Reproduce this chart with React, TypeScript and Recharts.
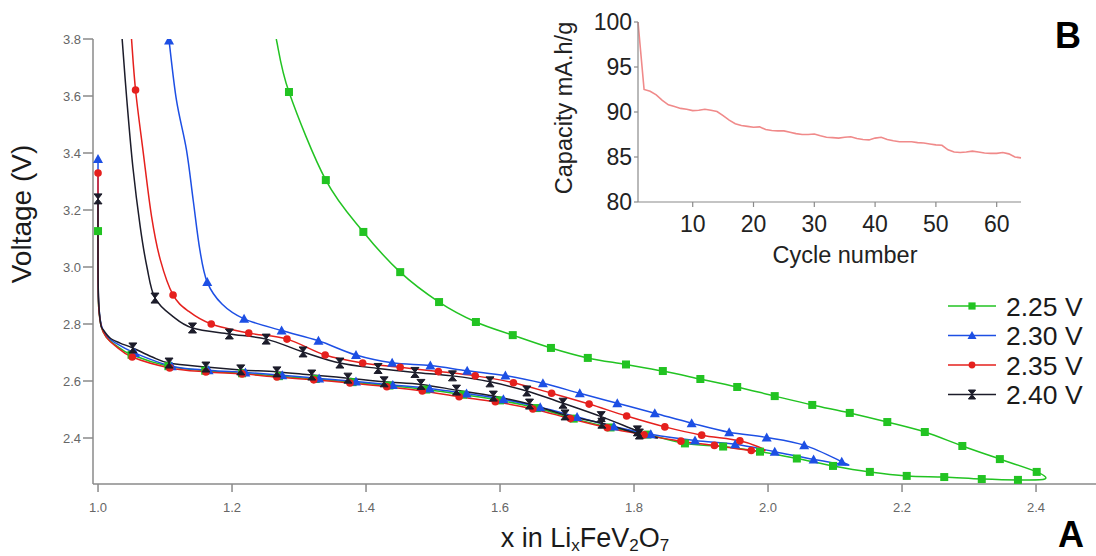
import React from 'react';
import { LineChart, Line, XAxis, YAxis } from 'recharts';

// ---------- main panel (A): voltage vs x in LixFeV2O7 ----------
// each point: [x, voltage, marker(1/0)]
const curve225: number[][] = [
  [1.0, 3.126, 1], [1.0, 2.95, 0], [1.001, 2.86, 0], [1.005, 2.79, 0], [1.012, 2.755, 0], [1.025, 2.728, 0],
  [1.05, 2.692, 1], [1.105, 2.652, 1], [1.16, 2.636, 1], [1.215, 2.627, 1], [1.27, 2.617, 1], [1.325, 2.607, 1],
  [1.38, 2.596, 1], [1.435, 2.584, 1], [1.49, 2.57, 1], [1.545, 2.552, 1], [1.6, 2.532, 1], [1.655, 2.505, 1],
  [1.71, 2.468, 1], [1.765, 2.437, 1], [1.82, 2.412, 1], [1.876, 2.381, 1], [1.933, 2.37, 1], [1.988, 2.352, 1],
  [2.043, 2.328, 1], [2.097, 2.302, 1], [2.152, 2.281, 1], [2.207, 2.267, 1], [2.263, 2.263, 1], [2.319, 2.256, 1],
  [2.373, 2.253, 1], [2.413, 2.256, 0],
  [2.401, 2.281, 1], [2.346, 2.326, 1], [2.29, 2.372, 1], [2.234, 2.421, 1], [2.178, 2.456, 1], [2.122, 2.488, 1],
  [2.066, 2.516, 1], [2.01, 2.547, 1], [1.954, 2.579, 1], [1.899, 2.607, 1], [1.843, 2.635, 1], [1.788, 2.658, 1],
  [1.731, 2.681, 1], [1.676, 2.716, 1], [1.619, 2.761, 1], [1.564, 2.807, 1], [1.509, 2.877, 1], [1.451, 2.982, 1],
  [1.396, 3.123, 1], [1.34, 3.305, 1], [1.285, 3.614, 1], [1.266, 3.8, 0],
];

const curve230: number[][] = [
  [1.0, 3.379, 1], [1.0, 3.0, 0], [1.001, 2.87, 0], [1.005, 2.795, 0], [1.012, 2.76, 0], [1.025, 2.735, 0],
  [1.055, 2.698, 1], [1.11, 2.652, 1], [1.165, 2.638, 1], [1.22, 2.63, 1], [1.275, 2.62, 1], [1.33, 2.609, 1],
  [1.385, 2.598, 1], [1.44, 2.586, 1], [1.495, 2.574, 1], [1.55, 2.556, 1], [1.605, 2.536, 1], [1.66, 2.508, 1],
  [1.715, 2.474, 1], [1.77, 2.44, 1], [1.825, 2.413, 1], [1.891, 2.391, 1], [1.951, 2.378, 1], [2.01, 2.352, 1],
  [2.068, 2.325, 1], [2.117, 2.305, 0],
  [2.11, 2.317, 1], [2.054, 2.375, 1], [1.998, 2.402, 1], [1.942, 2.42, 1], [1.886, 2.452, 1], [1.831, 2.487, 1],
  [1.775, 2.522, 1], [1.719, 2.557, 1], [1.664, 2.592, 1], [1.608, 2.619, 1], [1.551, 2.636, 1], [1.496, 2.654, 1],
  [1.439, 2.664, 1], [1.385, 2.691, 1], [1.329, 2.741, 1], [1.274, 2.777, 1], [1.218, 2.818, 1], [1.185, 2.87, 0],
  [1.163, 2.947, 1], [1.152, 3.06, 0], [1.142, 3.235, 0], [1.132, 3.411, 0], [1.117, 3.586, 0], [1.106, 3.795, 1],
];

const curve235: number[][] = [
  [1.0, 3.33, 1], [1.0, 3.0, 0], [1.001, 2.86, 0], [1.005, 2.79, 0], [1.012, 2.755, 0], [1.025, 2.725, 0],
  [1.051, 2.684, 1], [1.107, 2.646, 1], [1.161, 2.632, 1], [1.215, 2.625, 1], [1.267, 2.614, 1], [1.322, 2.604, 1],
  [1.376, 2.593, 1], [1.431, 2.58, 1], [1.484, 2.565, 1], [1.539, 2.545, 1], [1.593, 2.527, 1], [1.649, 2.502, 1],
  [1.705, 2.468, 1], [1.76, 2.436, 1], [1.815, 2.411, 1], [1.87, 2.389, 1], [1.92, 2.374, 1], [1.975, 2.356, 1],
  [1.995, 2.358, 0],
  [1.958, 2.39, 1], [1.901, 2.41, 1], [1.846, 2.439, 1], [1.789, 2.477, 1], [1.733, 2.519, 1], [1.677, 2.557, 1],
  [1.62, 2.594, 1], [1.563, 2.618, 1], [1.508, 2.633, 1], [1.451, 2.648, 1], [1.395, 2.663, 1], [1.339, 2.691, 1],
  [1.282, 2.747, 1], [1.225, 2.768, 1], [1.169, 2.8, 1], [1.135, 2.845, 0], [1.112, 2.902, 1], [1.093, 3.025, 0],
  [1.08, 3.176, 0], [1.067, 3.411, 0], [1.056, 3.621, 1], [1.05, 3.8, 0],
];

const curve240: number[][] = [
  [1.0, 3.239, 1], [1.0, 3.0, 0], [1.001, 2.877, 0], [1.004, 2.8, 0], [1.008, 2.779, 0], [1.018, 2.751, 0],
  [1.033, 2.733, 0], [1.052, 2.716, 1], [1.08, 2.685, 0], [1.106, 2.663, 1], [1.161, 2.649, 1], [1.213, 2.639, 1],
  [1.267, 2.632, 1], [1.319, 2.621, 1], [1.373, 2.61, 1], [1.427, 2.597, 1], [1.482, 2.588, 1], [1.535, 2.568, 1],
  [1.59, 2.547, 1], [1.644, 2.519, 1], [1.697, 2.481, 1], [1.752, 2.452, 1], [1.808, 2.414, 1], [1.835, 2.4, 0],
  [1.805, 2.425, 1], [1.751, 2.475, 1], [1.694, 2.522, 1], [1.64, 2.565, 1], [1.585, 2.597, 1], [1.529, 2.618, 1],
  [1.473, 2.63, 1], [1.418, 2.644, 1], [1.361, 2.663, 1], [1.306, 2.702, 1], [1.251, 2.747, 1], [1.196, 2.765, 1],
  [1.141, 2.786, 1], [1.112, 2.826, 0], [1.085, 2.891, 1], [1.073, 3.0, 0], [1.063, 3.141, 0], [1.052, 3.351, 0],
  [1.043, 3.586, 0], [1.036, 3.8, 0],
];

const seriesNames = ['2.25 V', '2.30 V', '2.35 V', '2.40 V'];
const seriesColors = ['#22c322', '#1d4fe4', '#e5201d', '#1c1c2a'];
const seriesShapes = ['square', 'triangle', 'circle', 'hourglass'];
const seriesCurves = [curve225, curve230, curve235, curve240];
const drawOrder = [0, 1, 2, 3];

const xTicks = [1.0, 1.2, 1.4, 1.6, 1.8, 2.0, 2.2, 2.4];
const voltageTicks = [2.4, 2.6, 2.8, 3.0, 3.2, 3.4, 3.6, 3.8];

// ---------- inset (B): capacity vs cycle ----------
const cycles = Array.from({ length: 64 }, (_, i) => i + 1);
const capacity = [
  100, 92.5, 92.3, 91.9, 91.3, 90.8, 90.6, 90.4, 90.3, 90.15,
  90.2, 90.3, 90.2, 90.05, 89.6, 89.1, 88.7, 88.5, 88.4, 88.3,
  88.35, 88.05, 87.95, 87.9, 87.9, 87.75, 87.6, 87.5, 87.5, 87.55,
  87.35, 87.2, 87.15, 87.1, 87.2, 87.25, 87.05, 86.95, 86.9, 87.1,
  87.2, 86.95, 86.8, 86.7, 86.7, 86.7, 86.6, 86.55, 86.45, 86.35,
  86.3, 85.8, 85.55, 85.5, 85.55, 85.65, 85.55, 85.45, 85.4, 85.4,
  85.5, 85.35, 85.0, 84.9,
];
const cycleTicks = [10, 20, 30, 40, 50, 60];
const capacityTicks = [80, 85, 90, 95, 100];

const FONT = '"Liberation Sans", Arial, Helvetica, sans-serif';

// Catmull-Rom curve factory (works for loops where x is not monotonic)
const catmullRom = (context: any) => {
  let pts: number[][] = [];
  return {
    areaStart() {},
    areaEnd() {},
    lineStart() { pts = []; },
    point(x: number, y: number) { pts.push([+x, +y]); },
    lineEnd() {
      const n = pts.length;
      if (!n) return;
      context.moveTo(pts[0][0], pts[0][1]);
      for (let i = 0; i < n - 1; i++) {
        const p0 = pts[i - 1] || pts[i];
        const p1 = pts[i];
        const p2 = pts[i + 1];
        const p3 = pts[i + 2] || p2;
        context.bezierCurveTo(
          p1[0] + (p2[0] - p0[0]) / 6, p1[1] + (p2[1] - p0[1]) / 6,
          p2[0] - (p3[0] - p1[0]) / 6, p2[1] - (p3[1] - p1[1]) / 6,
          p2[0], p2[1],
        );
      }
    },
  };
};

function Marker({ shape, cx, cy, color, s = 1 }: { shape: string; cx: number; cy: number; color: string; s?: number }) {
  if (shape === 'square') return <rect x={cx - 4 * s} y={cy - 4 * s} width={8 * s} height={8 * s} fill={color} />;
  if (shape === 'triangle')
    return <path d={`M${cx},${cy - 5 * s} L${cx + 5 * s},${cy + 4 * s} L${cx - 5 * s},${cy + 4 * s} Z`} fill={color} />;
  if (shape === 'circle') return <circle cx={cx} cy={cy} r={3.8 * s} fill={color} />;
  return (
    <path
      d={`M${cx - 4 * s},${cy - 5 * s} H${cx + 4 * s} L${cx - 4 * s},${cy + 5 * s} H${cx + 4 * s} Z`}
      fill={color}
      stroke={color}
      strokeWidth={1}
      strokeLinejoin="round"
    />
  );
}

const toData = (c: number[][]) => c.map(([x, v, m]) => ({ x, v, m }));

export default function App() {
  return (
    <div style={{ position: 'absolute', left: 0, top: 0, width: 1096, height: 556, background: '#fff', fontFamily: FONT }}>
      {/* main chart */}
      <div style={{ position: 'absolute', left: 0, top: 0 }}>
        <LineChart width={1096} height={556} margin={{ top: 39, right: 0, bottom: 42, left: 33 }}>
          <XAxis
            type="number"
            dataKey="x"
            domain={[0.9925, 2.4895]}
            ticks={xTicks}
            tickFormatter={(v: number) => v.toFixed(1)}
            allowDataOverflow
            height={30}
            stroke="#8a8a8a"
            strokeWidth={1.5}
            tickSize={8}
            tickMargin={11}
            tick={{ fill: '#666', fontSize: 13, fontFamily: FONT }}
          />
          <YAxis
            type="number"
            dataKey="v"
            domain={[2.2386, 3.8]}
            ticks={voltageTicks}
            tickFormatter={(v: number) => v.toFixed(1)}
            allowDataOverflow
            width={60}
            stroke="#8a8a8a"
            strokeWidth={1.5}
            tickSize={10}
            tickMargin={2}
            tick={{ fill: '#666', fontSize: 13, fontFamily: FONT }}
          />
          {drawOrder.map((i) => (
            <Line
              key={seriesNames[i]}
              data={toData(seriesCurves[i])}
              dataKey="v"
              name={seriesNames[i]}
              type={catmullRom as any}
              stroke={seriesColors[i]}
              strokeWidth={1.5}
              isAnimationActive={false}
              activeDot={false}
              dot={(p: any) =>
                p.payload && p.payload.m ? (
                  <Marker key={`d${i}-${p.index}`} shape={seriesShapes[i]} cx={p.cx} cy={p.cy} color={seriesColors[i]} />
                ) : (
                  <g key={`d${i}-${p.index}`} />
                )
              }
            />
          ))}
        </LineChart>
      </div>

      {/* inset chart */}
      <div style={{ position: 'absolute', left: 0, top: 0 }}>
        <LineChart
          width={1096}
          height={280}
          data={cycles.map((c, i) => ({ c, cap: capacity[i] }))}
          margin={{ top: 22, right: 75, bottom: 38, left: 578 }}
        >
          <XAxis
            type="number"
            dataKey="c"
            domain={[1, 64]}
            ticks={cycleTicks}
            height={40}
            stroke="#8a8a8a"
            strokeWidth={1.2}
            tickSize={5}
            tickMargin={9}
            tick={{ fill: '#222', fontSize: 23, fontFamily: FONT }}
          />
          <YAxis
            type="number"
            domain={[80, 100]}
            ticks={capacityTicks}
            width={60}
            stroke="#8a8a8a"
            strokeWidth={1.2}
            tickSize={4}
            tickMargin={2}
            tick={{ fill: '#222', fontSize: 23, fontFamily: FONT }}
          />
          <Line dataKey="cap" type="linear" stroke="#f08a8a" strokeWidth={1.6} dot={false} activeDot={false} isAnimationActive={false} />
        </LineChart>
      </div>

      {/* titles, legend and panel letters */}
      <svg width={1096} height={556} style={{ position: 'absolute', left: 0, top: 0, pointerEvents: 'none' }}>
        <text transform="translate(31,214) rotate(-90)" textAnchor="middle" fontSize={28} fill="#1a1a1a" fontFamily={FONT}>
          Voltage (V)
        </text>
        <text x={585} y={547} textAnchor="middle" fontSize={27} fill="#1a1a1a" fontFamily={FONT}>
          x in Li<tspan fontSize={17} dy={3.5}>x</tspan>
          <tspan dy={-3.5}>FeV</tspan>
          <tspan fontSize={17} dy={3.5}>2</tspan>
          <tspan dy={-3.5}>O</tspan>
          <tspan fontSize={17} dy={3.5}>7</tspan>
        </text>
        <text transform="translate(572,108) rotate(-90)" textAnchor="middle" fontSize={23.5} fill="#222" fontFamily={FONT}>
          Capacity mA.h/g
        </text>
        <text x={845} y={263} textAnchor="middle" fontSize={23.5} fill="#222" fontFamily={FONT}>
          Cycle number
        </text>
        <text x={1071} y={547} textAnchor="middle" fontSize={36} fontWeight="bold" fill="#000" fontFamily={FONT}>
          A
        </text>
        <text x={1068} y={48} textAnchor="middle" fontSize={36} fontWeight="bold" fill="#000" fontFamily={FONT}>
          B
        </text>
        {seriesNames.map((name, i) => {
          const y = 306 + i * 29.5;
          return (
            <g key={name}>
              <line x1={948} x2={996} y1={y} y2={y} stroke={seriesColors[i]} strokeWidth={1.5} />
              <Marker shape={seriesShapes[i]} cx={972} cy={y} color={seriesColors[i]} s={0.9} />
              <text x={1006} y={y} dy="0.36em" fontSize={26.5} fill="#1a1a1a" fontFamily={FONT}>
                {name}
              </text>
            </g>
          );
        })}
      </svg>
    </div>
  );
}
